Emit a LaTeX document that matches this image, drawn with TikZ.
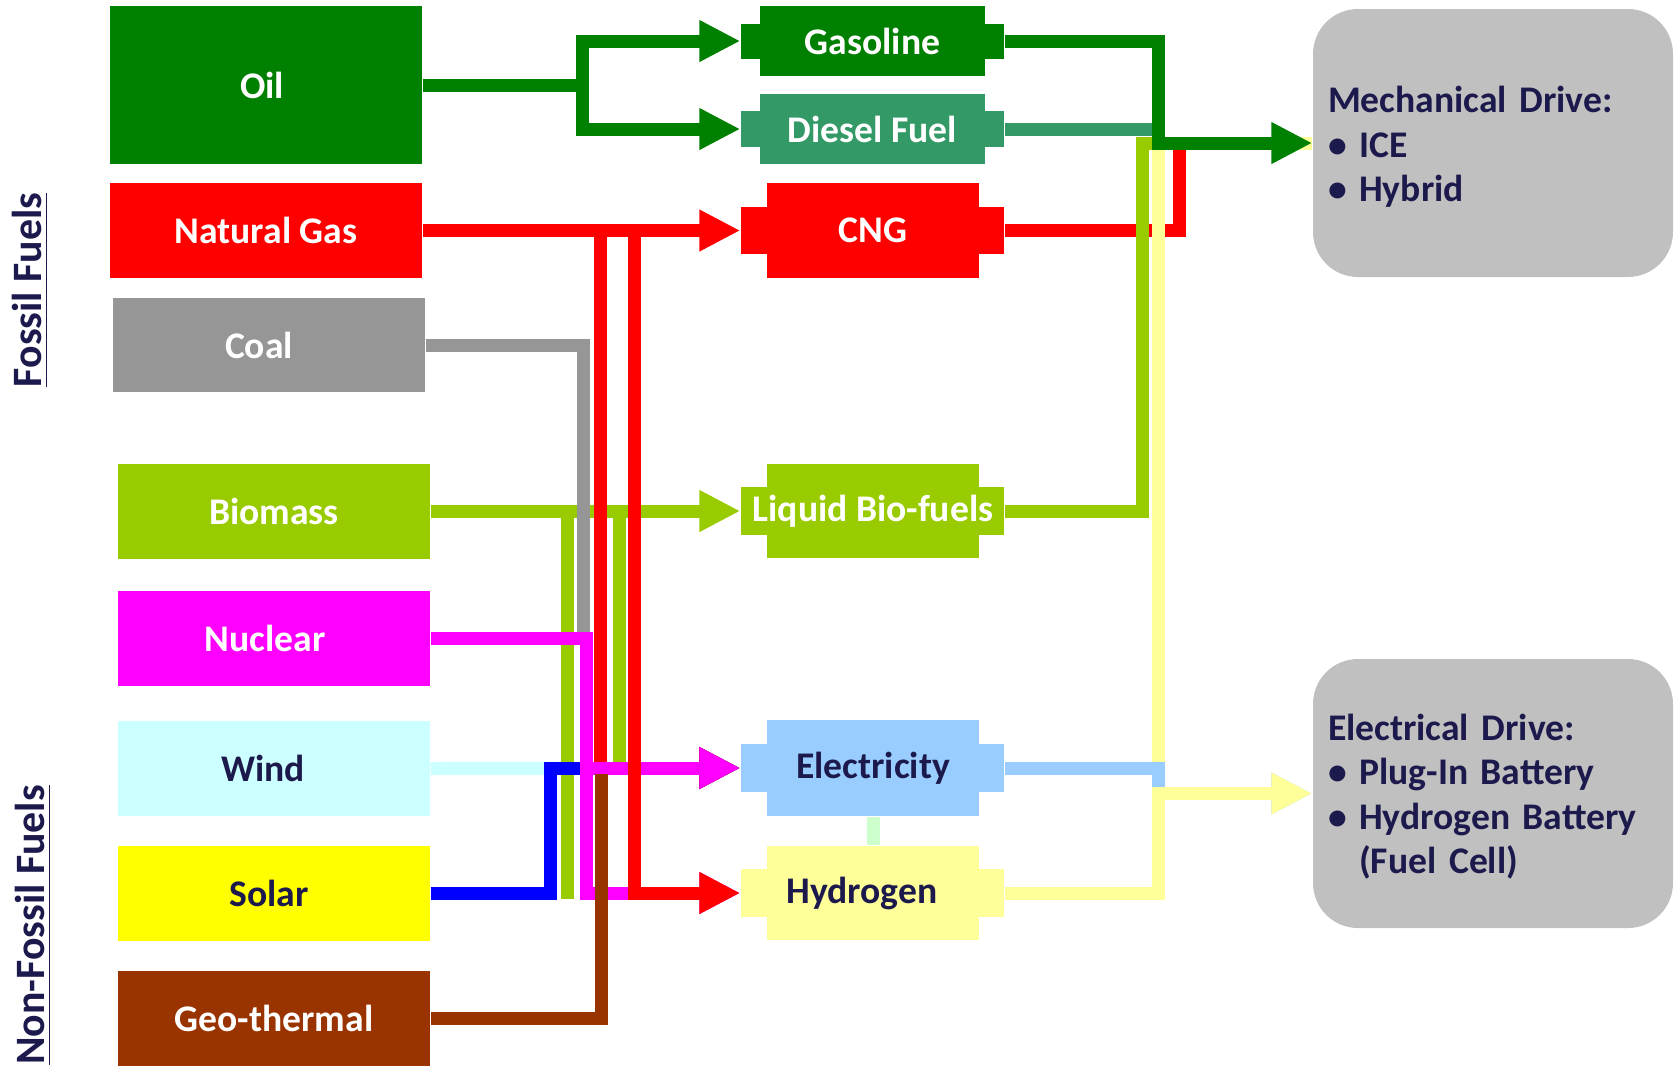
\documentclass[tikz,border=0pt]{standalone}
\usepackage{fontspec}
\setmainfont{Carlito}
\usepackage{xcolor}
\usetikzlibrary{arrows.meta, positioning, calc}

\definecolor{oilgreen}{HTML}{008000}
\definecolor{dieselgreen}{HTML}{339966}
\definecolor{gasred}{HTML}{FF0000}
\definecolor{coalgray}{HTML}{969696}
\definecolor{biogreen}{HTML}{99CC00}
\definecolor{nucmagenta}{HTML}{FF00FF}
\definecolor{windcyan}{HTML}{CCFFFF}
\definecolor{solaryellow}{HTML}{FFFF00}
\definecolor{solarblue}{HTML}{0000FF}
\definecolor{geobrown}{HTML}{993300}
\definecolor{elecblue}{HTML}{99CCFF}
\definecolor{hydroyellow}{HTML}{FFFF99}
\definecolor{mint}{HTML}{CCFFCC}
\definecolor{drivegray}{HTML}{C0C0C0}
\definecolor{navy}{HTML}{1C1A4C}

\begin{document}
\begin{tikzpicture}[x=0.1mm, y=-0.1mm, >={Triangle[length=4.1mm,width=3.9mm]},
  every node/.style={font=\fontsize{10.7}{12.6}\selectfont\bfseries},
  source/.style={minimum width=31.2mm, minimum height=9.5mm, inner sep=0pt, text=white},
  carrier/.style={minimum width=21.2mm, minimum height=9.5mm, inner sep=0pt, text=white},
  tab/.style={minimum width=26.3mm, minimum height=4.8mm, inner sep=0pt},
  drive/.style={fill=drivegray, rounded corners=4.5mm, minimum width=36mm},
  drivetext/.style={text width=33mm, align=left, text=navy},
  side/.style={rotate=90, text=navy, font=\fontsize{11.9}{14}\selectfont\bfseries},
  flow/.style={line width=1.3mm}]

\useasboundingbox (0,0) rectangle (1677,1066);

% Side labels
\node[side] (fossil) at (30,290) {\underline{Fossil Fuels}};
\node[side] (nonfossil) at (33,925) {\underline{Non-Fossil Fuels}};

% Primary sources
\node[source, fill=oilgreen, minimum height=15.8mm] (oil) at (266,85) {\hspace*{-0.8mm}Oil};
\node[source, fill=gasred] (ng) at (266,230.5) {Natural Gas};
\node[source, fill=coalgray, minimum height=9.4mm] (coal) at (269,345) {\hspace*{-2mm}Coal};
\node[source, fill=biogreen] (bio) at (274,511) {Biomass};
\node[source, fill=nucmagenta] (nuc) at (274,638) {\hspace*{-1.8mm}Nuclear};
\node[source, fill=windcyan, text=navy] (wind) at (274,768.5) {\hspace*{-2.2mm}Wind};
\node[source, fill=solaryellow, text=navy] (solar) at (274,893.5) {\hspace*{-1mm}Solar};
\node[source, fill=geobrown] (geo) at (274,1018.5) {Geo-thermal};

% Energy carriers (tab behind, body on top)
\node[tab, fill=oilgreen, minimum height=3.5mm] (gastab) at (872.5,41) {};
\node[carrier, fill=oilgreen, minimum width=22.5mm, minimum height=7mm] (gas) at (872.5,41) {Gasoline};
\node[tab, fill=dieselgreen, minimum height=3.6mm] (dieseltab) at (872.5,129) {};
\node[carrier, fill=dieselgreen, minimum width=22.5mm, minimum height=7mm] (diesel) at (872.5,129) {Diesel Fuel};
\node[tab, fill=gasred, minimum height=4.7mm] (cngtab) at (872.5,230.5) {};
\node[carrier, fill=gasred] (cng) at (873,230.5) {CNG};
\node[tab, fill=biogreen] (liqtab) at (872.5,511) {};
\node[carrier, fill=biogreen, minimum height=9.4mm] (liq) at (873,511) {\makebox[0pt]{Liquid Bio-fuels}};
\node[tab, fill=elecblue] (electab) at (872.5,768) {};
\node[carrier, fill=elecblue, text=navy, minimum height=9.6mm] (elec) at (873,768) {Electricity};
\node[tab, fill=hydroyellow] (h2tab) at (872.5,893) {};
\node[carrier, fill=hydroyellow, text=navy, minimum height=9.4mm] (h2) at (873,893) {\hspace*{-2.2mm}Hydrogen};

% Drive trains
\node[drive, minimum height=26.8mm] (mech) at (1493,143) {};
\node[drivetext] (mechtext) at ($(mech.center)+(0,4)$) {Mechanical Drive:\\\textbullet\ ICE\\\textbullet\ Hybrid};
\node[drive, minimum height=26.9mm] (edrive) at (1493,793.5) {};
\node[drivetext] (edrivetext) at ($(edrive.center)+(0,3)$) {Electrical Drive:\\\textbullet\ Plug-In Battery\\\textbullet\ Hydrogen Battery\\\phantom{\textbullet\ }(Fuel Cell)};

% Sources to carriers
\draw[flow, windcyan, ->] (wind.east) -- (electab.west);
\draw[flow, biogreen, ->] (bio.east) -- (liqtab.west);
\draw[flow, biogreen] (bio.east) -- ++(137,0) -- ++(0,388);
\draw[flow, biogreen, ->] (bio.east) -- ++(189,0) |- (electab.west);
\draw[flow, coalgray] (coal.east) -- ++(158,0) -- ++(0,293);
\draw[flow, solarblue, ->] (solar.east) -- ++(120,0) |- (electab.west);
\draw[flow, gasred, ->] (ng.east) -- ++(178,0) |- (electab.west);
\draw[flow, nucmagenta, ->] (nuc.east) -- ++(156,0) |- (h2tab.west);
\draw[flow, nucmagenta, ->] (nuc.east) -- ++(156,0) |- (electab.west);
\draw[flow, geobrown] (geo.east) -- ++(171,0) -- ++(0,-244.5);
\draw[flow, gasred, ->] (ng.east) -- (cngtab.west);
\draw[flow, gasred, ->] (ng.east) -- ++(212,0) |- (h2tab.west);
\draw[flow, oilgreen, ->] (oil.east) -- ++(160,0) |- (gastab.west);
\draw[flow, oilgreen, ->] (oil.east) -- ++(160,0) |- (dieseltab.west);
\draw[flow, mint] (elec.south) -- (h2.north);

% Carriers to drive trains
\draw[flow, gasred] (cngtab.east) -- ++(174.5,0) |- (mech.west);
\draw[flow, biogreen] (liqtab.east) -- ++(137.5,0) |- (mech.west);
\draw[flow, dieselgreen] (dieseltab.east) -- ++(154,0) |- (mech.west);
\draw[flow, hydroyellow] (h2tab.east) -- ++(154,0) |- (mech.west);
\draw[flow, elecblue, ->] (electab.east) -- ++(154,0) |- (edrive.west);
\draw[flow, hydroyellow, ->] (h2tab.east) -- ++(154,0) |- (edrive.west);
\draw[flow, oilgreen, ->] (gastab.east) -- ++(154,0) |- (mech.west);

\end{tikzpicture}
\end{document}
